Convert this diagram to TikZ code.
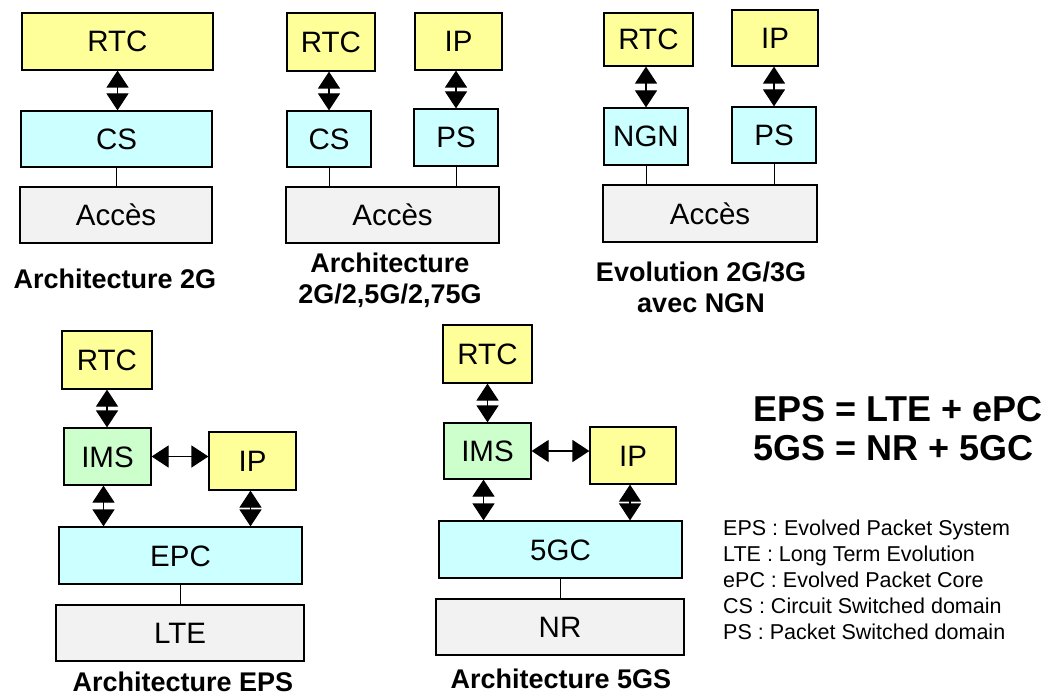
\documentclass[tikz,border=0pt]{standalone}
\usepackage{fontspec}
\setmainfont{Liberation Sans}
\usetikzlibrary{arrows.meta}
\definecolor{yelc}{HTML}{FFFF99}
\definecolor{cyanc}{HTML}{CCFFFF}
\definecolor{greenc}{HTML}{CCFFCC}
\definecolor{greyc}{HTML}{F2F2F2}
\begin{document}
\begin{tikzpicture}[x=1pt,y=-1pt,
  box/.style={draw=black, line width=1.2pt, inner sep=0pt, text height=21pt, text depth=0pt,
    font=\fontsize{29.5}{35}\selectfont},
  yb/.style={box, fill=yelc},
  cb/.style={box, fill=cyanc},
  gb/.style={box, fill=greenc},
  ab/.style={box, fill=greyc},
  sz/.style 2 args={minimum width=#1pt, minimum height=#2pt},
  dbl/.style={line width=1.2pt, {Triangle[length=17pt,width=22pt]}-{Triangle[length=17pt,width=22pt]}},
  lnk/.style={line width=1pt},
  lbl/.style={font=\fontsize{27}{31}\selectfont\bfseries, align=center, anchor=base, inner sep=0pt},
  big/.style={font=\fontsize{36}{40}\selectfont\bfseries, anchor=base west, inner sep=0pt},
  leg/.style={font=\fontsize{21.5}{26}\selectfont, anchor=base west, inner sep=0pt},
]
\useasboundingbox[fill=white] (0,0) rectangle (1057,695);

% ---------- Panel 1 ----------
\node[yb, sz={191}{57}] (r1) at (117.5,41.5) {RTC};
\node[cb, sz={191}{56}] (cs1) at (116.5,139) {CS};
\node[ab, sz={192}{56}] (a1) at (116,215) {Accès};
\draw[dbl] (r1.south) -- (r1.south |- cs1.north);
\draw[lnk] (cs1.south) -- (cs1.south |- a1.north);
\node[lbl] (l1) at (115,288) {Architecture 2G};

% ---------- Panel 2 ----------
\node[yb, sz={88}{58}] (r2) at (331,42) {RTC};
\node[yb, sz={87}{57}] (ip2) at (458.5,41.5) {IP};
\node[cb, sz={84}{56}] (cs2) at (329,139) {CS};
\node[cb, sz={84}{57}] (ps2) at (456,137.5) {PS};
\node[ab, sz={213}{56}] (a2) at (392.5,215) {Accès};
\draw[dbl] (cs2.north |- r2.south) -- (cs2.north);
\draw[dbl] (ps2.north |- ip2.south) -- (ps2.north);
\draw[lnk] (cs2.south) -- (cs2.south |- a2.north);
\draw[lnk] (ps2.south) -- (ps2.south |- a2.north);
\node[lbl] (l2) at (390,303) {Architecture\\2G/2,5G/2,75G};

% ---------- Panel 3 ----------
\node[yb, sz={89}{53}] (r3) at (648.5,39.5) {RTC};
\node[yb, sz={86}{56}] (ip3) at (775,38) {IP};
\node[cb, sz={84}{57}] (ngn3) at (646,136.5) {NGN};
\node[cb, sz={84}{56}] (ps3) at (774,135) {PS};
\node[ab, sz={214}{57}] (a3) at (710,213.5) {Accès};
\draw[dbl] (ngn3.north |- r3.south) -- (ngn3.north);
\draw[dbl] (ps3.north |- ip3.south) -- (ps3.north);
\draw[lnk] (ngn3.south) -- (ngn3.south |- a3.north);
\draw[lnk] (ps3.south) -- (ps3.south |- a3.north);
\node[lbl] (l3) at (701,312) {Evolution 2G/3G\\avec NGN};

% ---------- Panel 4 ----------
\node[yb, sz={90}{58}] (r4) at (107,360) {RTC};
\node[gb, sz={87}{57}] (ims4) at (107.5,456.5) {IMS};
\node[yb, sz={87}{58}] (ip4) at (252.5,461) {IP};
\node[cb, sz={243}{57}] (epc4) at (180.5,555.5) {EPC};
\node[ab, sz={248}{56}] (lte4) at (180,633) {LTE};
\draw[dbl] (r4.south) -- (r4.south |- ims4.north);
\draw[dbl] ([xshift=-4pt]ims4.south) -- ([xshift=-4pt]ims4.south |- epc4.north);
\draw[dbl] (ims4.east) -- (ims4.east -| ip4.west);
\draw[dbl] ([xshift=-2pt]ip4.south) -- ([xshift=-2pt]ip4.south |- epc4.north);
\draw[lnk] (epc4.south) -- (epc4.south |- lte4.north);
\node[lbl] (l4) at (183,691) {Architecture EPS};

% ---------- Panel 5 ----------
\node[yb, sz={89}{58}] (r5) at (487.5,354) {RTC};
\node[gb, sz={87}{56}] (ims5) at (487.5,451) {IMS};
\node[yb, sz={86}{57}] (ip5) at (633,455.5) {IP};
\node[cb, sz={243}{57}] (gc5) at (560.5,549.5) {5GC};
\node[ab, sz={248}{56}] (nr5) at (560,627) {NR};
\draw[dbl] (r5.south) -- (r5.south |- ims5.north);
\draw[dbl] ([xshift=-4pt]ims5.south) -- ([xshift=-4pt]ims5.south |- gc5.north);
\draw[dbl] (ims5.east) -- (ims5.east -| ip5.west);
\draw[dbl] ([xshift=-3pt]ip5.south) -- ([xshift=-3pt]ip5.south |- gc5.north);
\draw[lnk] (gc5.south) -- (gc5.south |- nr5.north);
\node[lbl] (l5) at (561,688) {Architecture 5GS};

% ---------- Right text ----------
\node[big] (eq1) at (753,421) {EPS = LTE + ePC};
\node[big] (eq2) at (753,460) {5GS = NR + 5GC};
\node[leg] (g1) at (723,535) {EPS : Evolved Packet System};
\node[leg] (g2) at (723,561) {LTE : Long Term Evolution};
\node[leg] (g3) at (723,587) {ePC : Evolved Packet Core};
\node[leg] (g4) at (723,613) {CS : Circuit Switched domain};
\node[leg] (g5) at (723,639) {PS : Packet Switched domain};
\end{tikzpicture}
\end{document}
